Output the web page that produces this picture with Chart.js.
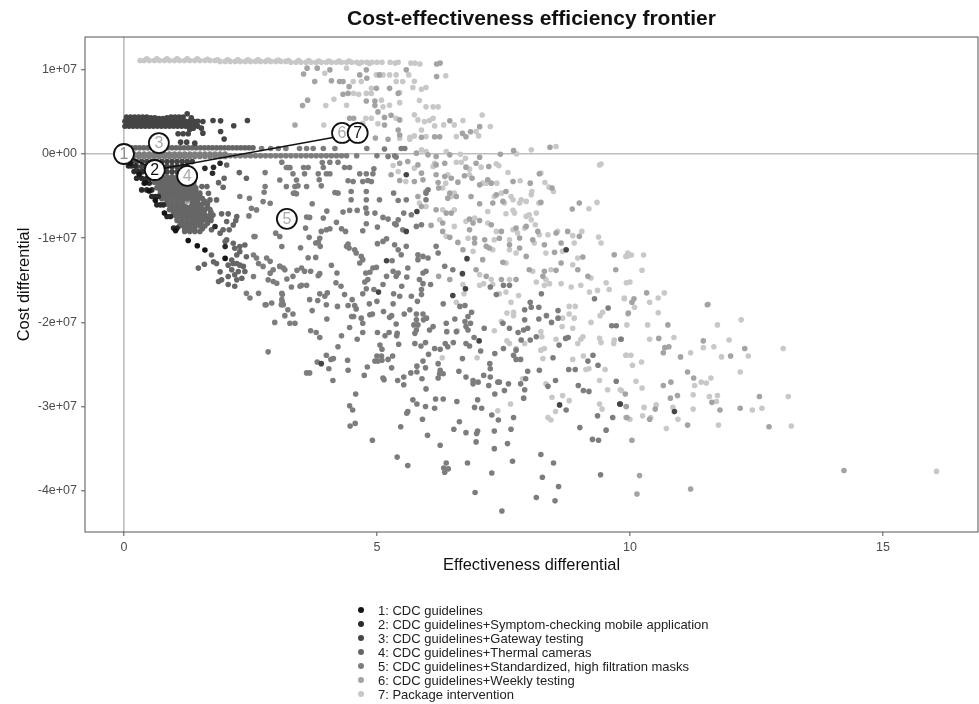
<!DOCTYPE html>
<html>
<head>
<meta charset="utf-8">
<script src="https://cdn.jsdelivr.net/npm/chart.js@4"></script>
<style>
  html, body { margin: 0; background: #fff; }
  #wrap { position: relative; width: 979px; height: 704px; filter: blur(0.5px); }
  #legend { position: absolute; left: 358px; top: 604px; font: 13px "Liberation Sans", Arial, sans-serif; color: #222; }
  #legend div { height: 14px; line-height: 14px; white-space: nowrap; }
  #legend i { display: inline-block; width: 6px; height: 6px; border-radius: 50%; margin-right: 14px; vertical-align: 2px; }
</style>
</head>
<body>
<div id="wrap">
  <canvas id="frontierChart" width="979" height="704"></canvas>
  <div id="legend"></div>
</div>
<script>
const chartTitle = 'Cost-effectiveness efficiency frontier';
const xTitle = 'Effectiveness differential';
const yTitle = 'Cost differential';
const xTicks = [0, 5, 10, 15];
const yTicks = [10000000, 0, -10000000, -20000000, -30000000, -40000000];
const yTickLabels = ['1e+07', '0e+00', '-1e+07', '-2e+07', '-3e+07', '-4e+07'];
const strategies = [
  '1: CDC guidelines',
  '2: CDC guidelines+Symptom-checking mobile application',
  '3: CDC guidelines+Gateway testing',
  '4: CDC guidelines+Thermal cameras',
  '5: CDC guidelines+Standardized, high filtration masks',
  '6: CDC guidelines+Weekly testing',
  '7: Package intervention'
];
const greys = ['#141414', '#2a2a2a', '#454545', '#666666', '#7d7d7d', '#a3a3a3', '#c8c8c8'];
const labelGreys = ['#8a8a8a', '#111111', '#aaaaaa', '#aaaaaa', '#aaaaaa', '#aaaaaa', '#111111'];

// mean of each strategy: effectiveness, cost in millions
const meansX = [0, 0.61, 0.69, 1.25, 3.22, 4.31, 4.62];
const meansY = [0, -1.9, 1.3, -2.6, -7.7, 2.5, 2.5];
const frontierIdx = [0, 1, 6];

// simulation draws: [effectiveness, cost in millions]
const series1 = [[0.12,-1.1],[0.3,-2.4],[0.42,-3.4],[0.5,-4.4],[0.62,-5.5],[0.8,-7],[1.02,-9.1],[1.27,-10.27],[1.45,-10.9],[1.6,-11.4],[2,-12.4]];
const series2 = [[0.09,-1.42],[0.15,-1.42],[0.22,-1.42],[0.2,-2.09],[0.28,-2.09],[0.38,-2.09],[0.25,-2.88],[0.35,-2.88],[0.45,-2.88],[0.52,-2.88],[0.4,-3.47],[0.5,-3.47],[0.35,-4.26],[0.45,-4.26],[0.55,-4.26],[0.55,-5.05],[0.62,-5.05],[0.68,-5.05],[0.65,-6.04],[0.72,-6.04],[0.78,-6.04],[0.85,-7.43],[0.92,-7.43],[0.98,-8.8],[1.05,-8.8],[1.6,-1.7],[1.77,-1.58],[1.75,-2.29],[1.9,-1.1],[1.8,-8.61],[2,-11]];
const series3 = [
  [0.02,3.3],[0.1,3.3],[0.18,3.3],[0.26,3.3],[0.34,3.3],[0.42,3.3],[0.5,3.3],[0.58,3.3],[0.66,3.3],[0.74,3.3],[0.82,3.3],[0.9,3.3],[0.98,3.3],[1.06,3.3],[1.14,3.3],[1.22,3.3],[1.3,3.3],[1.38,3.3],[1.46,3.3],
  [0.06,3.6],[0.14,3.6],[0.22,3.6],[0.3,3.6],[0.38,3.6],[0.46,3.6],[0.54,3.6],[0.62,3.6],[0.7,3.6],[0.78,3.6],[0.86,3.6],[0.94,3.6],[1.02,3.6],[1.1,3.6],[1.18,3.6],[1.26,3.6],[1.34,3.6],[1.42,3.6],
  [0.02,3.9],[0.1,3.9],[0.18,3.9],[0.26,3.9],[0.34,3.9],[0.42,3.9],[0.5,3.9],[0.58,3.9],[0.66,3.9],[0.74,3.9],[0.82,3.9],[0.9,3.9],[0.98,3.9],[1.06,3.9],[1.14,3.9],[1.22,3.9],[1.3,3.9],[1.38,3.9],[1.46,3.9],
  [0.05,4.4],[0.13,4.4],[0.21,4.4],[0.29,4.4],[0.37,4.4],[0.45,4.4],[0.53,4.3],[0.61,4.3],[0.69,4.2],[0.77,4.2],[0.85,4.3],[0.93,4.4],[1.01,4.4],[1.09,4.4],[1.17,4.4],[1.25,4.77],[1.33,4.3],
  [1.56,3.86],[1.76,3.98],[1.91,3.94],[2.44,3.98],[2.17,3.35],[1.91,2.67],[1.98,1.77],[1.53,3.07],[1.56,2.48],[1.3,2.9],[1.07,2.4],[1.17,2.4],[1.27,2.4],[1.37,3.07],[1.12,1.41],[1.24,1.41],[1.4,1.29],
  [0.15,-0.9],[0.25,-0.9],[0.35,-0.9],[0.45,-0.9],[0.55,-0.9],[0.65,-0.9],[0.75,-0.9],[0.85,-0.9],[0.95,-0.9],[1.05,-0.9],[1.15,-0.9],[1.25,-0.9],[1.35,-0.9],
  [0.25,-1.5],[0.35,-1.5],[0.45,-1.5],[0.55,-1.5],[0.65,-1.5],[0.75,-1.5],[0.85,-1.5],[0.95,-1.5],[1.05,-1.5],[1.15,-1.5],[1.25,-1.5],
  [0.35,-2.1],[0.45,-2.1],[0.55,-2.1],[0.65,-2.1],[0.75,-2.1],[0.85,-2.1],[0.95,-2.1],[1.05,-2.1],[1.15,-2.1],
  [5.58,-2.47],[5.79,-6.82],[6.75,-16],[6.5,-16.8],[7.02,-22.2],[3.9,-24.9],[9.8,-29.7],[9.81,-29.7],[8.74,-11.37],[6.78,-12.43],[5.03,-16.4],[5.19,-12.67],[6.69,-14.21],[5.58,-9.19],[10.88,-30.6],[8.61,-29.8]
];
const series4 = [
  [0.15,0.75],[0.23,0.75],[0.31,0.75],[0.39,0.75],[0.47,0.75],[0.55,0.75],[0.63,0.75],[0.71,0.75],[0.79,0.75],[0.87,0.75],[0.95,0.75],[1.03,0.75],[1.11,0.75],[1.19,0.75],[1.27,0.75],[1.35,0.75],[1.43,0.75],[1.51,0.75],[1.59,0.75],[1.67,0.75],[1.75,0.75],[1.83,0.75],[1.91,0.75],[1.99,0.75],[2.07,0.75],[2.15,0.75],[2.23,0.75],[2.31,0.75],[2.39,0.75],[2.47,0.75],[2.55,0.75],
  [0.55,-2.7],[0.65,-2.7],[0.75,-2.7],[0.85,-2.7],[0.95,-2.7],[1.05,-2.7],[1.15,-2.7],[1.25,-2.7],[1.35,-2.7],
  [0.62,-3.02],[0.72,-3.02],[0.82,-3.02],[0.92,-3.02],[1.02,-3.02],[1.12,-3.02],[1.22,-3.02],[1.32,-3.02],
  [0.6,-3.35],[0.7,-3.35],[0.8,-3.35],[0.9,-3.35],[1,-3.35],[1.1,-3.35],[1.2,-3.35],[1.3,-3.35],[1.38,-3.35],
  [0.68,-3.68],[0.78,-3.68],[0.88,-3.68],[0.98,-3.68],[1.08,-3.68],[1.18,-3.68],[1.28,-3.68],[1.38,-3.68],
  [0.65,-4],[0.75,-4],[0.85,-4],[0.95,-4],[1.05,-4],[1.15,-4],[1.25,-4],[1.35,-4],[1.42,-4],
  [0.72,-4.32],[0.82,-4.32],[0.92,-4.32],[1.02,-4.32],[1.12,-4.32],[1.22,-4.32],[1.32,-4.32],[1.42,-4.32],
  [0.72,-4.65],[0.82,-4.65],[0.92,-4.65],[1.02,-4.65],[1.12,-4.65],[1.22,-4.65],[1.32,-4.65],[1.42,-4.65],[1.5,-4.65],
  [0.78,-4.98],[0.88,-4.98],[0.98,-4.98],[1.08,-4.98],[1.18,-4.98],[1.28,-4.98],[1.38,-4.98],[1.5,-4.98],
  [0.75,-5.3],[0.85,-5.3],[0.95,-5.3],[1.05,-5.3],[1.15,-5.3],[1.25,-5.3],[1.35,-5.3],[1.45,-5.3],[1.55,-5.3],
  [0.85,-5.62],[0.95,-5.62],[1.05,-5.62],[1.15,-5.62],[1.35,-5.62],[1.45,-5.62],[1.6,-5.62],
  [0.85,-5.95],[0.95,-5.95],[1.05,-5.95],[1.15,-5.95],[1.35,-5.95],[1.45,-5.95],[1.55,-5.95],[1.65,-5.95],
  [0.92,-6.28],[1.02,-6.28],[1.12,-6.28],[1.22,-6.28],[1.32,-6.28],[1.42,-6.28],[1.52,-6.28],[1.65,-6.28],
  [0.9,-6.6],[1,-6.6],[1.1,-6.6],[1.2,-6.6],[1.3,-6.6],[1.4,-6.6],[1.5,-6.6],[1.6,-6.6],[1.7,-6.6],
  [0.98,-6.92],[1.08,-6.92],[1.18,-6.92],[1.28,-6.92],[1.38,-6.92],[1.48,-6.92],[1.58,-6.92],[1.72,-6.92],
  [1,-7.25],[1.1,-7.25],[1.2,-7.25],[1.3,-7.25],[1.4,-7.25],[1.5,-7.25],[1.6,-7.25],[1.7,-7.25],[1.76,-7.25],
  [1.05,-7.58],[1.15,-7.58],[1.25,-7.58],[1.35,-7.58],[1.45,-7.58],[1.55,-7.58],[1.65,-7.58],[1.72,-7.58],
  [1.05,-7.9],[1.15,-7.9],[1.25,-7.9],[1.35,-7.9],[1.45,-7.9],[1.55,-7.9],[1.65,-7.9],[1.72,-7.9],
  [1.12,-8.22],[1.22,-8.22],[1.32,-8.22],[1.42,-8.22],[1.52,-8.22],[1.65,-8.22],
  [1.1,-8.55],[1.2,-8.55],[1.3,-8.55],[1.4,-8.55],[1.5,-8.55],[1.6,-8.55],
  [1.2,-8.88],[1.3,-8.88],[1.4,-8.88],[1.55,-8.88],
  [1.2,-9.2],[1.3,-9.2],[1.4,-9.2],[1.5,-9.2],
  [2.28,-2.21],[2.42,-2.88],[1.98,-2.88],[1.87,-3.4],[1.96,-3.95],[2.03,-1.3],[1.83,-5.45],[1.64,-3.87],[1.67,-4.66],[1.54,-3.87],[1.7,-5.45],[1.93,-7.11],[2.06,-7.11],[2.23,-7.43],[2.21,-7.9],[2.16,-8.42],[2.03,-8.02],[2.08,-9],[1.96,-9],[1.73,-9],[1.9,-9.4],[2.03,-10.2],[2.16,-10.6],[2.29,-11],[2.39,-10.8],[2.19,-11.2],[2.29,-11.6],[2.42,-12.2],[2.23,-12],[2.13,-12.6],[2,-10.4],[1.73,-12],[1.77,-12.8],[1.47,-13.55],[1.59,-13.1],[1.9,-14],[1.83,-13],
  [2.16,-13],[2.23,-13],[2.29,-13.2],[2.06,-13.2],[2.36,-13.35],[2.13,-13.75],[2.26,-13.95],[2.39,-13.95],[2.19,-14.35],[2.06,-14.55],[1.93,-14.95],[1.87,-15.15],[2.23,-14.95],[2.19,-15.7],[2.06,-15.5],[2.33,-14.75]
];
const series5 = [
  [0.2,0],[0.3,0],[0.4,0],[0.5,0],[0.6,0],[0.7,0],[0.8,0],[0.9,0],[1,0],[1.1,0],[1.2,0],[1.3,0],[1.4,0],[1.5,0],[1.6,0],[1.7,0],[1.8,0],[1.9,0],[2,0],
  [0.2,-0.3],[0.3,-0.3],[0.4,-0.3],[0.5,-0.3],[0.6,-0.3],[0.7,-0.3],[0.8,-0.3],[0.9,-0.3],[1,-0.3],[1.1,-0.3],[1.2,-0.3],[1.3,-0.3],[1.4,-0.3],[1.5,-0.3],[1.6,-0.3],[1.7,-0.3],[1.8,-0.3],[1.9,-0.3],[2,-0.3],
  [2.1,-0.2],[2.2,-0.2],[2.3,-0.2],[2.4,-0.2],[2.5,-0.2],[2.6,-0.2],[2.7,-0.2],[2.8,-0.2],[2.9,-0.2],[3,-0.2],[3.1,-0.2],[3.2,-0.2],[3.3,-0.2],[3.4,-0.2],[3.5,-0.2],[3.6,-0.2],[3.7,-0.2],[3.8,-0.2],[3.9,-0.2],[4,-0.2],[4.1,-0.2],[4.2,-0.2],[4.3,-0.2],[4.4,-0.2],[4.6,-0.2],[5,-0.22],[5.22,-0.3],[5.35,-0.2],[5.38,-0.35],
  [2.72,0.65],[2.9,0.65],[3.05,0.65],[3.2,0.65],[3.47,0.65],[3.61,0.65],[3.74,0.65],[3.94,0.65],[4.17,0.65],[4.8,0.65],[5.15,0.6],[5.48,0.65],[5.55,0.65],
  [2.79,-2.21],[3.12,-0.98],[3.28,-1.62],[2.79,-3.87],[2.77,-4.54],[3.08,-3.08],[3.35,-4.66],[3.41,-3.08],[2.75,-5.65],[2.89,-5.85],[2.52,-6.44],[2.62,-6.64],[2.47,-7.35],[2.48,-5.25],[2.29,-5.05],[2.57,-9.8],[2.59,-9.8],[3.12,-11],[3,-9.4],[3.08,-9.8],[3.48,-15.7],
  [2.56,-12],[2.62,-12.35],[2.66,-13],[2.82,-12.35],[2.89,-12.75],[2.75,-13.35],[2.95,-13.75],[2.89,-14.15],[3.08,-13.35],[3.18,-13.75],[2.56,-14.55],[2.85,-14.95],[2.95,-15.15],[3.02,-15.35],[2.66,-16.55],[2.42,-16.55],[2.49,-17.1],[3.12,-16.55],[3.12,-17.3],[3.15,-17.9],[2.92,-17.7],[2.79,-17.9],[2.85,-23.5],[2.81,-17.9],[2.98,-20],[3.24,-18.5],
  [3.21,-1.6],[3.24,-1.6],[3.55,-1.6],[3.64,-1.6],[3.94,-1.6],[4.36,-1.6],[4.46,-1.6],[4.07,-0.97],[4.23,-0.97],[3.92,-1.01],[3.34,-2.35],[3.57,-2.35],[3.84,-2.35],[4,-2.35],[4.07,-2.35],[4.66,-2.35],[4.79,-2.35],[4.92,-2.35],[4.94,-1.76],
  [3.86,-3.07],[4.43,-3.18],[4.53,-3.26],[4.72,-3.26],[4.82,-3.14],[4.89,-3.26],[3.9,-3.78],[3.61,-3.86],[3.38,-3.86],[3.44,-3.78],[3.21,-3.86],[3.38,-4.65],[3.41,-4.73],[4.17,-4.57],[4.23,-4.65],[4.49,-4.45],[4.79,-4.45],[5.05,-5.44],[5.33,-4.65],[5.58,-5.44],[6.01,-4.25],[5.97,-4.65],
  [3.72,-5.91],[4.78,-6.42],[4.49,-5.44],[4.79,-5.44],[5.42,-5.52],[5.97,-5.44],[4.33,-6.9],[4.46,-6.7],[4.61,-6.7],[4.8,-7.02],[4.01,-6.78],[4.96,-7.02],[5.53,-7.02],[5.68,-7.22],[3.61,-7.49],[3.67,-7.53],[3.94,-7.61],[5.12,-7.53],[5.22,-7.73],[5.42,-7.81],
  [4.2,-8.12],[4.79,-8.28],[5.01,-8.68],[5.38,-8.4],[5.35,-8.28],[5.78,-8.6],[5.88,-8.4],[5.51,-9],[3.59,-8.8],[4.07,-8.88],[4,-9],[3.9,-9.19],[4.3,-8.88],[4.38,-9.19],[4.72,-9.11],[5.19,-10.06],[5.12,-10.38],[5.01,-10.65],[3.66,-9.9],[3.84,-10.5],[3.87,-10],[3.88,-10.97],[3.79,-10.57],
  [3.49,-11.13],[4.43,-10.69],[4.4,-10.97],[4.45,-11.17],[4.56,-11.37],[4.59,-11.76],[4.69,-12.16],[4.72,-12.55],[4.66,-12.95],[5.42,-11.37],[5.35,-10.77],[5.58,-10.97],[5.48,-11.96],[6.17,-10.97],[6.21,-11.76],[3.64,-12.32],[3.79,-12.28],[5.3,-12.67],[4.1,-13.22],[4.92,-13.54],[4.99,-13.46],[4.86,-14.05],[4.78,-14.13],[5.32,-13.93],[5.42,-14.13],[5.61,-13.54],[5.81,-11.96],[5.91,-12.16],[6.01,-12.35],[5.81,-12.55],[5.97,-13.93],[5.91,-14.13],[6.34,-13.34],[6.5,-13.74],
  [3.51,-13.54],[3.42,-13.82],[3.57,-13.93],[3.69,-13.93],[3.87,-14.21],[3.84,-14.45],[4.21,-14.13],[3.34,-14.53],[3.22,-14.84],[3.15,-13.54],[3.08,-13.34],[4.82,-14.92],[5.19,-14.53],[5.59,-14.61],[5.38,-14.53],[5.84,-14.92],
  [4.91,-34],[4.58,-28.5],[4.46,-29.9],[4.52,-30.4],[4.47,-32.3],[4.57,-32],[5.4,-36],[5.61,-37],[5.47,-32.4],[5.59,-30.8],[5.9,-31.5],[6,-33.4],[6.25,-34.6],[6.37,-36.7],[6.41,-37.4],[6.32,-37.3],[6.34,-37.8],[6.79,-36.7],[6.94,-40.2],[7.27,-37.9],[7.47,-42.4],[7.68,-36.5],[8.15,-40.8],[8.52,-41.2],[8.59,-39.5],[8.27,-38.4],[8.49,-36.7],[8.24,-35.7],[9.42,-38.1],[9.26,-33.9],[9.38,-34],[9.53,-32.8],[9.01,-32.5],[9.66,-31.3],[9.36,-31.1],
  [6.52,-32.7],[6.63,-31.8],[6.76,-33.1],[6.99,-32.9],[6.97,-33.2],[6.96,-34.2],[7.32,-35],[7.58,-34.4],[7.65,-32.7],[7.32,-32.9],[7.27,-31],[7.4,-31.6],[7.7,-31.3],[6.93,-30.1],[7.07,-30.2],[6.99,-29.2],[6.58,-29.4],[6.31,-29.1],[6.16,-29.1],[6.14,-30.2],[5.96,-30],[5.79,-29.7],[5.71,-29.2],[5.61,-30.6],[5.97,-27.9],[5.53,-27.4],[5.41,-26.9],[5.53,-26.5],[5.12,-26.6],[5.14,-26.8],[4.75,-26.3],[4.43,-25.7],[4.42,-24.5],[4.13,-26.9],[4.05,-25.5],[3.82,-24.7],[4.09,-24.4],[4.14,-24.3],[4,-23.9],[3.61,-26],[3.67,-26],[4.23,-22.9],[4.61,-22],[4.3,-21.6],[3.87,-21.8],[3.8,-21.2],[3.69,-21],[4.01,-19.6],[3.28,-20.1],[3.38,-20.1],[3.18,-19.2],[3.34,-19],[3.72,-18.6],[3.67,-17.3],[3.83,-17.4],[4,-17.9],[4.22,-18.1],[3.87,-16.6],[4.02,-16.5],[3.97,-16.9],[3.13,-16.7],[3.13,-17.6],[3.11,-17.9],[3.51,-15.6],[3.61,-15.6],[3.31,-15.8],[4.19,-15.3],[4.29,-15.7],[4.36,-16.7],[4.51,-17.3],[4.43,-18],[4.56,-18],[4.59,-18.4],[4.5,-19.3],[4.54,-19.3],[4.69,-19.5],[4.72,-20.1],[4.46,-20.6],[4.72,-21.2],[4.86,-19.1],[4.91,-19],[5.13,-18.7],[5,-17.5],[4.85,-17.8],[4.72,-16.6],[4.79,-16],[4.94,-16.1],[4.76,-15.2],[5.12,-15.5],[5.33,-16.6],[5.32,-17.8],[5.45,-16.9],[5.49,-15.7],[5.68,-16.9],[5.8,-17.5],[5.88,-16.1],[5.91,-15.4],[6.06,-15.5],[5.88,-16.7],[5.54,-19],[5.65,-18.5],[5.25,-19.4],[5.29,-19.2],[5.38,-20.2],[5.01,-21.2],[5.16,-21.6],[5.24,-21.2],[5.4,-21.3],[5.39,-21.6],[5.06,-22.7],[5.1,-23.2],[5.43,-22.6],[5,-24],[5.09,-24],[5.1,-24.5],[5.02,-24.6],[4.96,-24.6],[5.22,-24.4],[5.31,-24],[4.81,-25.3],[5.29,-25.4],[5.75,-22.5],[5.87,-22.8],[5.96,-22.4],[5.78,-19],[5.78,-19.7],[5.81,-20.3],[5.73,-20.3],[5.91,-19],[5.98,-19.5],[5.92,-19.7],[5.75,-21.3],[5.78,-20.9],[6.11,-20.5],[6.04,-20.9],[6.02,-23.8],[6.14,-23.1],[6.25,-23.2],[6.35,-22.5],[6.4,-22.9],[6.51,-22.4],[5.91,-24.6],[5.79,-25.2],[5.79,-25.9],[5.67,-26],[5.96,-25.4],[5.89,-26.7],[6.21,-24.9],[6.25,-25.7],[6.31,-26.1],[6.24,-26.1],[6.21,-26.6],[6.62,-25.8],[6.69,-24.3],[6.76,-22.5],[6.83,-22.8],[6.92,-21.8],[7.05,-23.4],[6.74,-19.9],[6.85,-20.1],[6.76,-20.5],[6.8,-20.9],[7.12,-20.7],[6.37,-20.1],[6.38,-21.1],[6.54,-19.6],[6.57,-21.1],[6.31,-17.8],[6.64,-18.1],[6.74,-18],[6.87,-18.8],[6.8,-19.3],
  [6.76,-26.5],[6.9,-26.9],[6.9,-27.3],[7,-27.1],[7.11,-26.3],[7.24,-26.5],[7.21,-27.5],[7.39,-27.1],[7.42,-27.1],[7.33,-28.5],[7.52,-28.1],[7.6,-27.3],[7.23,-24.9],[7.24,-25.5],[7.5,-23.1],[7.33,-23.7],[7.75,-23.3],[7.7,-23.9],[7.75,-24.4],[7.84,-24.4],[7.98,-25.8],[7.84,-27.3],[7.92,-28],[7.94,-26.7],[7.9,-29],[8.21,-25.7],[8.53,-26.9],[8.38,-27.6],[8.98,-27.5],[9.08,-28.1],[9.19,-28.2],[9.73,-27],[8.74,-30.4],[9.37,-25.1],[9.27,-23.9],[9.17,-24.6],[8.79,-25.6],[8.92,-25.6],[9.82,-22],[9.64,-20.4],[9.73,-20.4],[9.57,-18.3],[9.3,-17.2],[8.78,-21.8],[8.73,-21.9],[8.6,-22.7],[8.48,-24.2],[8.15,-21.7],[8.03,-22.1],[7.85,-22.1],[7.79,-21.2],[7.9,-20.9],[7.98,-20.7],[7.62,-20.7],[7.49,-20.1],[7.92,-19.7],[7.92,-18.5],[8.05,-18.2],[8.2,-18.2],[8.2,-19.6],[8.35,-19.2],[8.45,-20],[8.58,-18.6],[8.58,-19.5],[7.5,-15.6],[7.62,-15.6],[7.36,-16.7],[7.24,-15.8],[8.25,-16.6],[8.03,-17.6]
];
const series6 = [
  [3.55,9.5],[3.62,10.2],[3.82,10.2],[4.07,10],[3.77,8.6],[4.1,8.7],[4.26,8.6],[4.33,8.6],[4.66,9.4],[4.79,10],[4.8,9],[4.45,8],[5.05,9.4],[4.99,7.8],[5.58,10],[5.25,7.8],[5.42,7.2],[4.33,7.1],[4.43,7.2],[4.79,6.3],[4.96,6.3],[4.96,5.75],[5.02,5],[5.28,4.6],[3.63,6.4],[3.53,5.75],[4.46,4.25],[4.54,4.25],[5.15,4.35],[3.38,3.45],[5.15,3.45],[5.45,4.05],[5.42,2.85],[5.45,2.25],[6.24,2.05],[6.44,3.95],[6.69,2.45],[6.85,2.65],[7.03,3.25],[6.76,2.05],[4.97,1.9],[5.22,1.75],[8.42,0.8],[6.14,2.05],[5.88,2],[7.7,0.4],[7.44,-0.02],
  [6.18,10.7],[6.25,10.8],[6.18,9.2],[1.24,-5.6],
  [5.78,0.1],[6.01,-0.1],[6.17,-0.3],[6.17,-1.29],[6.34,-1.09],[6.17,-2.47],[6.44,-0.1],[7.03,-0.38],[6.96,-1.09],[6.34,-2.67],[6.47,-2.87],[6.76,-1.56],[7.21,-1.48],[5.61,-0.89],[5.45,-1.09],[5.28,-2.47],[5.45,-3.14],[5.74,-3.26],[5.91,-3.07],[5.88,-2.27],[5.81,-1.29],
  [6.6,-3.34],[6.21,-3.38],[6.73,-2.59],[6.88,-2.87],[7.19,-3.07],[7.03,-3.66],[7.26,-3.46],[7.69,-3.26],[8.03,-3.46],[8.21,-2.35],[8.46,-4.05],[8.24,-5.75],[5.97,-4.45],[5.81,-5.04],[5.88,-6.23],[6.22,-4.05],[6.44,-4.65],[6.4,-5.24],[6.57,-5.04],[6.86,-5.04],[7.03,-5.91],[7.36,-4.84],[7.55,-4.45],[7.49,-5.63],[7.29,-5.83],[8.86,-6.54],[9,-5.83],
  [6.17,-6.62],[6.37,-7.02],[6.3,-8.2],[6.47,-7.02],[6.83,-7.73],[7.03,-7.89],[6.9,-8.2],[7.26,-8.4],[6.3,-9.19],[6.44,-9.9],[6.07,-8.48],[6.83,-9],[7.46,-9.19],[7.75,-8.8],[7.82,-9.98],[7.62,-10.77],[7.95,-8.6],[8.08,-10.18],[8.18,-9.19],[8.54,-9.39],[8.77,-9.19],[9,-9.78],[8.64,-10.57],[8.51,-11.68],[8.31,-10.77],[9.07,-12.24],[9.69,-11.96],[9.72,-13.74],
  [6.6,-10.5],[6.93,-10],[6.93,-10.57],[6.7,-11.37],[7.09,-12.55],[7.22,-11.17],[7.16,-10.97],[7.13,-10.18],[7.42,-10],[7.82,-11.17],[7.49,-12.87],[7.95,-12.16],[8.01,-13.74],[8.31,-13.94],[8.54,-13.82],[8.28,-14.53],[8.64,-12.95],[8.97,-13.74],[9.17,-14.53],[6.96,-13.74],[7.16,-14.53],[7.46,-14.92],[7.75,-14.92],[6.44,-14.92],[6.22,-14.53],
  [10.33,-16.5],[10.08,-17.2],[10.04,-17.6],[9.97,-18.9],[11.53,-17.9],[10.75,-20.3],[9.83,-22],[10.57,-21.9],[11.45,-22.2],[12.27,-23.1],[10.66,-23.6],[10.69,-23],[10.77,-22.9],[11,-24.1],[11.99,-24],[11.14,-25.9],[11.26,-26.6],[10.66,-27.5],[10.81,-27.1],[9.91,-28.5],[12.56,-28.8],[10.94,-28.7],[10.8,-29],[11.62,-29.5],[9.93,-30],[10.5,-30.3],[11.78,-30.4],[12.18,-30.2],[9.94,-31.3],[10.39,-31.5],[11.14,-32.2],[12.75,-32.4],[10.04,-34],[10.19,-38.2],[10.14,-40.4],[11.2,-39.8],[14.23,-37.6]
];
const series7 = [
  [0.32,11.1],[0.4,11.1],[0.5,11.1],[0.6,11.1],[0.7,11.1],[0.8,11.1],[0.9,11.1],[1,11.1],[1.1,11.1],[1.2,11.1],[1.3,11.1],[1.4,11.1],[1.5,11.1],[1.6,11.1],[1.7,11.1],[1.8,11.1],[1.9,11],[2,11],[2.1,11],[2.2,11],[2.3,11],[2.4,11],[2.5,11],[2.6,11],[2.7,11],[2.8,11],[2.9,11],[3,11],[3.1,11],[3.2,11],[3.3,10.9],[3.4,10.9],[3.5,10.9],[3.6,10.9],[3.7,10.9],[3.8,10.9],[3.9,10.9],[4,10.9],[4.1,10.9],[4.2,10.9],[4.3,10.9],[4.4,10.9],[4.5,10.9],[4.6,10.9],[4.7,10.9],[4.8,10.9],[4.9,10.9],[5,10.9],[5.1,10.9],[5.26,10.9],[5.36,10.8],[5.42,10.9],[5.67,10.8],[5.75,10.8],[5.85,10.7],
  [0.45,11.3],[0.65,11.3],[0.85,11.3],[1.05,11.3],[1.25,11.3],[1.45,11.3],[1.65,11.25],[1.85,11.2],[2.05,11.2],[2.25,11.2],[2.45,11.2],[2.65,11.2],[2.85,11.15],[3.05,11.15],[3.25,11.1],[3.45,11.1],[3.65,11.1],[3.85,11.05],[4.05,11.05],[4.25,11.05],[4.45,11.05],[4.65,10.75],[4.85,10.75],
  [3.97,9.6],[4.4,10.2],[4.53,8.6],[4.69,8.6],[4.99,9.4],[5.12,9.4],[5.25,9.4],[5.38,9.4],[5.63,9.4],[5.38,8.6],[5.51,8.6],[5.74,8.65],[5.71,7.9],[5.88,7.7],[5.97,7.9],[4.89,7.8],[4.79,7.2],[4.89,7.2],[4.64,7.1],[4.54,7.2],[5.45,7.3],[3.99,5.75],[4.15,6.5],[4.4,5.8],[5.09,6.4],[5.12,5.6],[5.25,5.8],[5.45,6.1],[5.84,6.35],[5.97,5.6],[6.11,5.6],[6.21,5.6],[5.38,4.25],[4.78,4.25],[4.89,4.25],[4.72,3.65],[5.02,3.6],[5.74,4.65],[5.81,4.05],[5.94,3.85],[5.88,2.85],[6.11,4.25],[6.04,3.97],[6.14,3.34],[6.32,3.46],[6.53,3.46],[6.7,3.97],[7.08,4.64],[7.24,3.26],[6.96,2.67],[7.01,2.15],[6.57,2.07],[5.97,2.07],[5.74,2.15],[5.65,2],[5.65,1.76],[5.45,1.88],[8.05,0.5],[8.54,0.9],[3.95,3.45],[9.43,-1.2],[9.4,-1.3],[7.76,0.02],[6.36,9.3],
  [5.88,0.49],[5.97,0.3],[6.14,-1.09],[6.11,-1.48],[6.37,0.3],[6.65,-0.02],[6.75,-0.5],[6.57,-0.97],[6.67,-0.97],[6.4,-2.47],[6.83,-1.8],[7.06,-1.56],[7.36,-1.17],[7.41,-1.4],[5.32,-1.37],[5.42,-2.08],[5.57,-3.26],[5.74,-1.68],
  [6.36,-3.46],[6.83,-2.47],[7.16,-3.46],[7.09,-3.46],[7.37,-3.46],[7.59,-2.2],[7.83,-3.18],[8.24,-2.27],[8.32,-3.38],[8.4,-3.93],[8.49,-4.45],[8.06,-4.45],[8.2,-5.83],[7.85,-5.44],[7.95,-5.63],[5.84,-5.83],[5.97,-6.23],[6.3,-4.05],[6.53,-4.65],[6.47,-5.04],[7.32,-5.04],[7.46,-4.65],[7.65,-5.04],[7.52,-5.83],[7.69,-5.44],[8.05,-4.84],[7.19,-6.82],[7.69,-6.7],[7.72,-7.02],[7.55,-7.1],[8.15,-7.02],[8.01,-7.22],[7.95,-7.41],[8.05,-7.81],[8.13,-8.4],[7.82,-5.83],[9.19,-6.5],[9.35,-5.75],
  [6.3,-6.62],[6.24,-7.81],[6.53,-6.62],[6.93,-7.61],[6.76,-8],[7.19,-8.2],[6.37,-9.78],[6.53,-8.6],[7.36,-9.19],[7.69,-9],[7.78,-9.39],[7.62,-10.18],[7.92,-8.8],[8.11,-10.57],[8.21,-9.59],[8.38,-9.59],[8.57,-9.19],[8.87,-9.7],[9.05,-9.19],[9.38,-9.86],[9.43,-10.57],[8.9,-10.57],[8.67,-11.56],[8.34,-11.76],[8.97,-12.35],[9.92,-12.16],[9.96,-11.76],[9.53,-15.3],
  [6.8,-10],[6.9,-11.56],[7.29,-11.37],[7.32,-10.18],[7.62,-11.37],[7.75,-11.76],[7.55,-12.95],[8.08,-13.94],[8.44,-13.74],[8.34,-14.92],[8.87,-13.15],[9.23,-14.73],[7.03,-14.33],[7.26,-14.92],[7.62,-14.92],[6.7,-15.5],
  [6.57,-17.6],[6.72,-16.6],[7.03,-15.6],[7.11,-15.4],[7.29,-15.5],[7.42,-16.6],[7.55,-16.4],[7.8,-16.8],[7.65,-17.6],[7.57,-18.9],[7.7,-18.8],[7.7,-19.2],[7.46,-19.9],[7.32,-21],[6.59,-21],[7.57,-22.2],[7.62,-22.5],[7.75,-23.1],[7.92,-22.5],[8.24,-21.1],[8.26,-21.7],[8.54,-22],[8.24,-23.3],[8.31,-23.1],[8.28,-24.3],[8.87,-24.4],[9.08,-24],[9.13,-25.6],[9.19,-25.5],[9.51,-25.6],[9.4,-26.9],[9.56,-28],[9.81,-28],[8.34,-27.3],[8.46,-28.9],[8.67,-28.7],[8.8,-29.3],[8.53,-30.6],[8.38,-31.3],[8.44,-31.6],[9.4,-29.7],[9.45,-30.3],[9.92,-31.3],[9.92,-30],[7.64,-29.7],[7.39,-30.5],[6.98,-24.2],[6.29,-24.2],[7.88,-26.7],
  [8.8,-18.1],[8.92,-18.1],[8.67,-19.5],[8.8,-19],[8.9,-19.5],[8.87,-20.7],[8.66,-20.5],[9.23,-20],[9.68,-22.5],[9.69,-22.1],[9.4,-21.9],[9.43,-22.4],[9.07,-21.7],[9.03,-22],[8.97,-22.5],[8.15,-15.2],[8.31,-15.6],[8.41,-15.4],[8.64,-15.4],[8.84,-15.8],[9.03,-15.6],[9.2,-16.4],[9.36,-16.2],[9.59,-16.1],[9.89,-17.2],[9.96,-19],[9.92,-23.9],[9.41,-19.2],[9.46,-18.8],
  [9.96,-12.1],[10.03,-12],[10.27,-12],[10.24,-13.8],[9.93,-15.3],[10,-15.2],[10.68,-16.5],[9.89,-17.1],[10.09,-18.2],[10.39,-17.6],[10.56,-17.1],[10.56,-18.85],[11.55,-17.85],[9.94,-20.3],[10.35,-20.3],[11.73,-20.3],[12.2,-19.7],[10.39,-22],[10.87,-21.8],[11.45,-23],[11.66,-22.9],[11.96,-22.1],[13.03,-23.1],[11.2,-23.6],[11.81,-24.1],[12.34,-24],[9.93,-23.9],[10.02,-23.9],[10.05,-25.1],[10.23,-24.7],[12.18,-25.9],[11.41,-27.1],[11.51,-27.2],[11.6,-26.6],[11.28,-27.5],[10.12,-27],[10.24,-27.8],[9.83,-28.1],[11.25,-28.6],[11.73,-28.7],[11.57,-28.8],[13.13,-28.8],[11.71,-29.4],[10.28,-30.1],[10.52,-29.8],[10.85,-30.1],[11.25,-30.3],[12.42,-30.4],[12.61,-30.2],[10,-31.5],[10.25,-31.1],[10.41,-31.3],[10.95,-31.5],[10.72,-32.6],[11.75,-32.2],[13.19,-32.3],[16.06,-37.7]
];
const allSeries = [series1, series2, series3, series4, series5, series6, series7];
const MILLION = 1e6;

const toPoint = ([x, y]) => ({ x: x, y: y * MILLION });

// numbers inside the white circles
const meanLabels = {
  id: 'meanLabels',
  afterDatasetsDraw(chart) {
    const { ctx } = chart;
    const meta = chart.getDatasetMeta(1);
    ctx.save();
    ctx.font = '16px "Liberation Sans", Arial, sans-serif';
    ctx.textAlign = 'center';
    ctx.textBaseline = 'middle';
    meta.data.forEach((pt, i) => {
      ctx.fillStyle = labelGreys[i];
      ctx.fillText(String(i + 1), pt.x, pt.y + 0.5);
    });
    ctx.restore();
  }
};

// theme_bw style panel border
const panelBorder = {
  id: 'panelBorder',
  afterDraw(chart) {
    const { ctx, chartArea: a } = chart;
    ctx.save();
    ctx.strokeStyle = '#555';
    ctx.lineWidth = 1;
    ctx.strokeRect(a.left, a.top, a.right - a.left, a.bottom - a.top);
    ctx.restore();
  }
};

const datasets = [
  {
    label: 'Frontier',
    data: frontierIdx.map(i => ({ x: meansX[i], y: meansY[i] * MILLION })),
    showLine: true,
    borderColor: '#111',
    borderWidth: 1.5,
    pointRadius: 0,
    order: 1
  },
  {
    label: 'Means',
    data: meansX.map((x, i) => ({ x: x, y: meansY[i] * MILLION })),
    backgroundColor: '#fff',
    borderColor: '#111',
    borderWidth: 1.8,
    pointRadius: 10,
    order: 0
  }
];
allSeries.forEach((s, i) => {
  datasets.push({
    label: strategies[i],
    data: s.map(toPoint),
    backgroundColor: greys[i],
    borderWidth: 0,
    pointRadius: 2.8,
    order: 2 + i
  });
});

new Chart(document.getElementById('frontierChart'), {
  type: 'scatter',
  data: { datasets: datasets },
  options: {
    responsive: false,
    animation: false,
    layout: { autoPadding: false, padding: { left: 15, right: 1, top: 0, bottom: 129 } },
    plugins: {
      legend: { display: false },
      tooltip: { enabled: false },
      title: {
        display: true,
        text: chartTitle,
        fullSize: false,
        color: '#111',
        font: { family: '"Liberation Sans", Arial, sans-serif', size: 21, weight: 'bold', lineHeight: 1.2 },
        padding: { top: 7, bottom: 4.8 }
      }
    },
    scales: {
      x: {
        type: 'linear',
        min: -0.77,
        max: 16.88,
        afterBuildTicks: axis => { axis.ticks = xTicks.map(v => ({ value: v })); },
        afterFit: axis => { axis.height = 43; axis.paddingLeft = 0; axis.paddingRight = 0; },
        grid: {
          color: c => (c.tick && c.tick.value === 0 ? '#bdbdbd' : 'transparent'),
          lineWidth: 1.6,
          tickColor: '#555',
          tickWidth: 1,
          tickLength: 4
        },
        border: { display: false },
        ticks: {
          color: '#4d4d4d',
          padding: 4,
          maxRotation: 0,
          font: { family: '"Liberation Sans", Arial, sans-serif', size: 12.5 }
        },
        title: {
          display: true,
          text: xTitle,
          color: '#111',
          padding: 0,
          font: { family: '"Liberation Sans", Arial, sans-serif', size: 16.4 }
        }
      },
      y: {
        type: 'linear',
        min: -44900000,
        max: 13900000,
        afterBuildTicks: axis => { axis.ticks = yTicks.map(v => ({ value: v })); },
        afterFit: axis => { axis.width = 70; axis.paddingTop = 0; axis.paddingBottom = 0; },
        grid: {
          color: c => (c.tick && c.tick.value === 0 ? '#bdbdbd' : 'transparent'),
          lineWidth: 1.6,
          tickColor: '#555',
          tickWidth: 1,
          tickLength: 4
        },
        border: { display: false },
        ticks: {
          color: '#4d4d4d',
          padding: 4,
          font: { family: '"Liberation Sans", Arial, sans-serif', size: 12.5 },
          callback: v => yTickLabels[yTicks.indexOf(v)]
        },
        title: {
          display: true,
          text: yTitle,
          color: '#111',
          padding: 0,
          font: { family: '"Liberation Sans", Arial, sans-serif', size: 16.4 }
        }
      }
    }
  },
  plugins: [meanLabels, panelBorder]
});

// vertical legend under the plot
const legendEl = document.getElementById('legend');
strategies.forEach((name, i) => {
  const row = document.createElement('div');
  const dot = document.createElement('i');
  dot.style.background = greys[i];
  row.appendChild(dot);
  row.appendChild(document.createTextNode(name));
  legendEl.appendChild(row);
});
</script>
</body>
</html>
